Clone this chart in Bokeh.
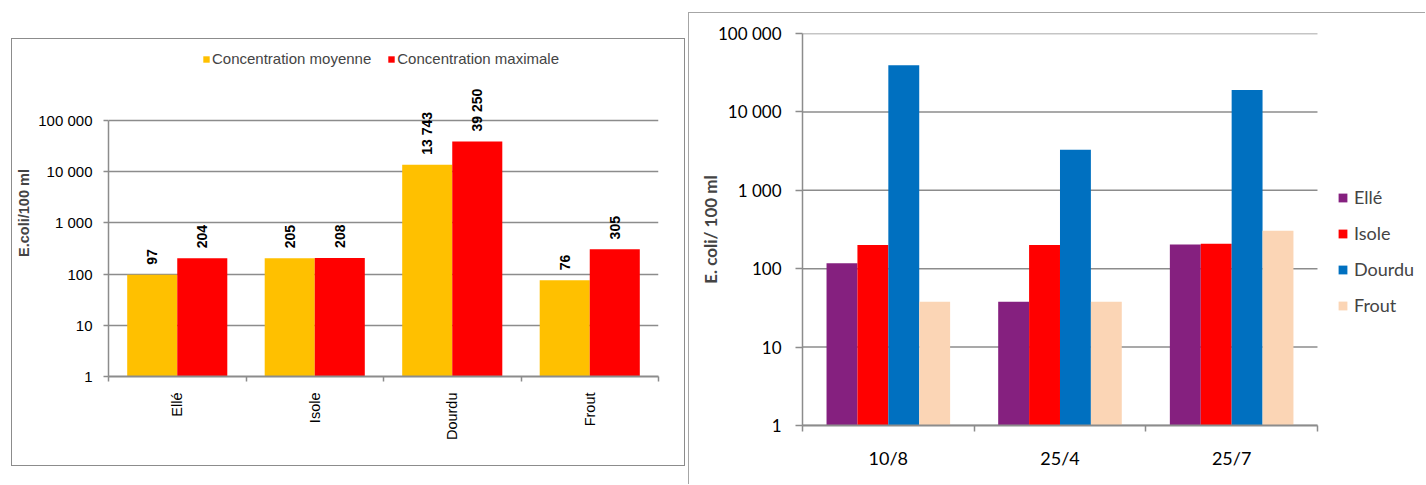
import math

from bokeh.core.properties import value
from bokeh.embed import file_html
from bokeh.models import (ColumnDataSource, FixedTicker, LabelSet, Legend,
                          LegendItem, Range1d)
from bokeh.plotting import figure
from bokeh.resources import INLINE
from bokeh.transform import dodge

# ---- data -------------------------------------------------------------
stations = ["Ellé", "Isole", "Dourdu", "Frout"]
conc_moyenne = [97, 205, 13743, 76]
conc_maximale = [204, 208, 39250, 305]

dates = ["10/8", "25/4", "25/7"]
elle = [117, 38, 204]
isole = [200, 200, 208]
dourdu = [39250, 3300, 19000]
frout = [38, 38, 305]

decades = [1, 10, 100, 1000, 10000, 100000]
decade_labels = ["1", "10", "100", "1 000", "10 000", "100 000"]

GREY = "#8c8c8c"


def fmt(v):
    return f"{v:,}".replace(",", " ")


def style_log_axis(p, font, size):
    p.yaxis.ticker = FixedTicker(ticks=decades, minor_ticks=[])
    p.yaxis.bounds = (1, 100000)
    p.yaxis.major_label_overrides = dict(zip(decades, decade_labels))
    p.yaxis.major_label_text_font = font
    p.yaxis.major_label_text_font_size = size
    p.yaxis.major_label_text_color = "#000000"
    p.yaxis.axis_line_color = GREY
    p.yaxis.axis_line_width = 1.5
    p.yaxis.major_tick_line_color = GREY
    p.yaxis.major_tick_line_width = 1.5
    p.yaxis.major_tick_in = 0
    p.yaxis.minor_tick_line_color = None
    p.ygrid.ticker = FixedTicker(ticks=decades, minor_ticks=[])
    p.ygrid.grid_line_color = GREY
    p.ygrid.grid_line_width = 1.5
    p.xgrid.grid_line_color = None


def style_cat_axis(p, centers, names, font, size):
    # labels sit at the group centres, tick marks at the group boundaries
    p.xaxis.ticker = FixedTicker(ticks=centers,
                                 minor_ticks=list(range(len(names) + 1)))
    p.xaxis.bounds = (0, len(names))
    p.xaxis.major_label_overrides = dict(zip(centers, names))
    p.xaxis.major_label_text_font = font
    p.xaxis.major_label_text_font_size = size
    p.xaxis.major_label_text_color = "#000000"
    p.xaxis.major_tick_line_color = None
    p.xaxis.major_tick_out = 0
    p.xaxis.major_tick_in = 0
    p.xaxis.minor_tick_line_color = GREY
    p.xaxis.minor_tick_line_width = 1.5
    p.xaxis.minor_tick_in = 0
    p.xaxis.axis_line_color = GREY
    p.xaxis.axis_line_width = 2


# ---- left chart: mean and max per river --------------------------------
LEFT_FONT = "Liberation Sans"
centers1 = [i + 0.5 for i in range(len(stations))]
src1 = ColumnDataSource(dict(
    x=centers1,
    moy=conc_moyenne,
    mx=conc_maximale,
    lbl_moy=[fmt(v) for v in conc_moyenne],
    lbl_mx=[fmt(v) for v in conc_maximale],
))

# headroom above 100 000 holds the value labels and the legend
p1 = figure(width=674, height=428,
            x_range=Range1d(0, len(stations)), y_range=Range1d(1, 10 ** 6.39),
            y_axis_type="log", output_backend="svg", toolbar_location=None,
            min_border_left=96, min_border_right=28,
            min_border_top=10, min_border_bottom=91,
            styles={"position": "absolute", "left": "11px", "top": "38px",
                    "border": f"1px solid {GREY}"},
            outline_line_color=None)

r_moy = p1.vbar(x=dodge("x", -0.182), top="moy", bottom=1, width=0.364,
                fill_color="#FFC000", line_color=None, source=src1)
r_max = p1.vbar(x=dodge("x", 0.182), top="mx", bottom=1, width=0.364,
                fill_color="#FF0000", line_color=None, source=src1)

for ycol, tcol, off in (("moy", "lbl_moy", -0.182), ("mx", "lbl_mx", 0.182)):
    p1.add_layout(LabelSet(x=dodge("x", off), y=ycol, text=tcol, source=src1,
                           angle=math.pi / 2, text_align="left",
                           text_baseline="middle", y_offset=10,
                           text_font=value(LEFT_FONT), text_font_size="14px",
                           text_font_style="bold", text_color="#000000"))

style_log_axis(p1, LEFT_FONT, "15px")
p1.yaxis.major_tick_out = 5
p1.yaxis.major_label_standoff = 11
p1.yaxis.axis_label = "E.coli/100 ml"
p1.yaxis.axis_label_text_font = LEFT_FONT
p1.yaxis.axis_label_text_font_size = "14.5px"
p1.yaxis.axis_label_text_font_style = "bold"
p1.yaxis.axis_label_standoff = 3

style_cat_axis(p1, centers1, stations, LEFT_FONT, "14.5px")
p1.xaxis.minor_tick_out = 5
p1.xaxis.major_label_orientation = math.pi / 2
p1.xaxis.major_label_standoff = 11

leg1 = Legend(items=[LegendItem(label="Concentration moyenne", renderers=[r_moy]),
                     LegendItem(label="Concentration maximale", renderers=[r_max])],
              orientation="horizontal", location=(94, 309),
              glyph_width=8, glyph_height=8, label_standoff=2, spacing=16,
              padding=0, margin=0, border_line_color=None,
              background_fill_alpha=0,
              label_text_font=LEFT_FONT, label_text_font_size="15px",
              label_height=16)
p1.add_layout(leg1, "center")

# ---- right chart: each sampling date -----------------------------------
RIGHT_FONT = "Lato"
centers2 = [i + 0.5 for i in range(len(dates))]
src2 = ColumnDataSource(dict(x=centers2, elle=elle, isole=isole,
                             dourdu=dourdu, frout=frout))

# the frame runs on to the right edge so the legend can sit beside the bars
p2 = figure(width=737, height=472,
            x_range=Range1d(0, len(dates) * 1.2117), y_range=Range1d(1, 100000),
            y_axis_type="log", output_backend="svg", toolbar_location=None,
            min_border_left=113, min_border_right=0,
            min_border_top=20, min_border_bottom=60,
            styles={"position": "absolute", "left": "688px", "top": "12px",
                    "border-left": "1px solid #a6a6a6",
                    "border-top": "1px solid #a6a6a6"},
            outline_line_color=None)

# horizontal grid lines limited to the plotted dates
p2.segment(x0=0, x1=len(dates), y0=decades, y1=decades,
           line_color=GREY, line_width=1.5)

series = [("elle", "Ellé", "#85207F", -0.27),
          ("isole", "Isole", "#FF0000", -0.09),
          ("dourdu", "Dourdu", "#0070C0", 0.09),
          ("frout", "Frout", "#FBD5B5", 0.27)]
items = []
for col, name, color, off in series:
    r = p2.vbar(x=dodge("x", off), top=col, bottom=1, width=0.18,
                fill_color=color, line_color=None, source=src2)
    items.append(LegendItem(label=name, renderers=[r]))

style_log_axis(p2, RIGHT_FONT, "17px")
p2.ygrid.grid_line_color = None
p2.yaxis.major_tick_out = 7
p2.yaxis.major_label_standoff = 14
p2.yaxis.axis_label = "E. coli/ 100 ml"
p2.yaxis.axis_label_text_font = RIGHT_FONT
p2.yaxis.axis_label_text_font_size = "17px"
p2.yaxis.axis_label_text_font_style = "bold"
p2.yaxis.axis_label_standoff = -6

style_cat_axis(p2, centers2, dates, RIGHT_FONT, "18px")
p2.xaxis.minor_tick_out = 6
p2.xaxis.major_label_standoff = 15

leg2 = Legend(items=items, location=(535, 109),
              glyph_width=11, glyph_height=11, label_standoff=6, spacing=14,
              padding=0, margin=0, border_line_color=None,
              background_fill_alpha=0, label_height=20,
              label_text_font=RIGHT_FONT, label_text_font_size="18px")
p2.add_layout(leg2, "center")

with open("out.html", "w") as f:
    f.write(file_html([p1, p2], INLINE))
